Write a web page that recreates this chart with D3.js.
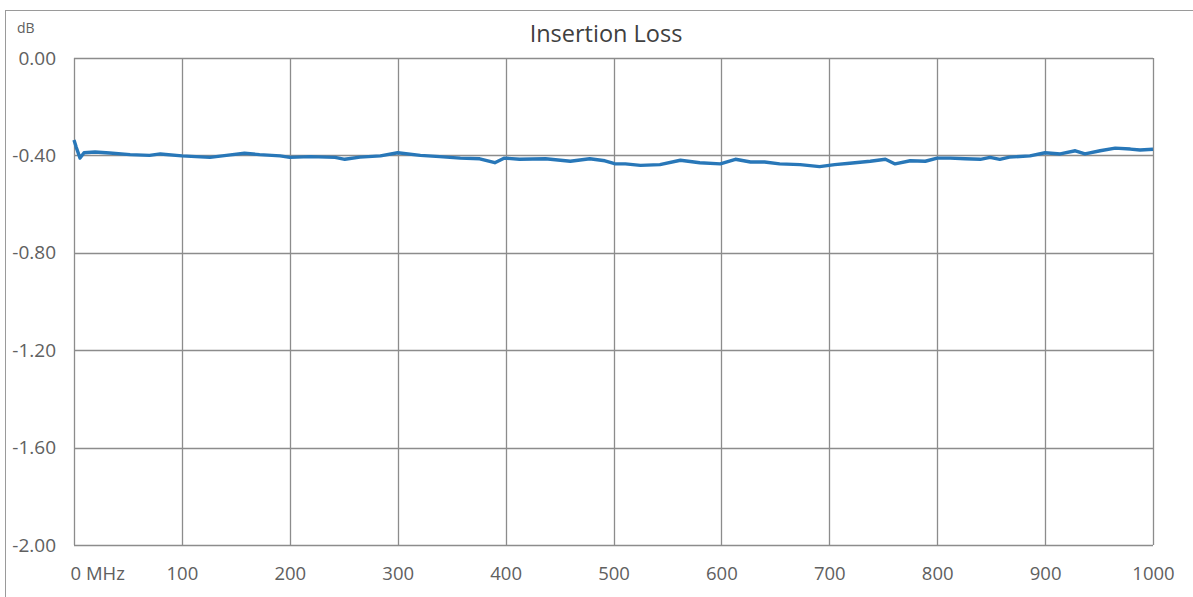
<!DOCTYPE html>
<html>
<head>
<meta charset="utf-8">
<script src="https://cdn.jsdelivr.net/npm/d3@7"></script>
<style>
    body { margin: 0; background: #fff; }
    #chart text { font-family: "Open Sans", "DejaVu Sans", sans-serif; }
</style>
</head>
<body>
<div id="chart"></div>
<script>
/** insertion loss data */
var freqMHz = [0, 2, 5.6, 9.3, 19.5, 33, 52, 70, 80, 100, 126, 145, 158, 172, 191, 200, 219, 242, 251, 265,
    284, 300, 321, 339, 358, 376, 390, 399, 413, 437, 460, 478, 492, 501, 511, 525, 543, 562, 580, 599,
    613, 627, 640, 654, 673, 691, 705, 719, 738, 752, 761, 775, 789, 800, 812, 826, 840, 849, 858, 867,
    886, 900, 914, 928, 937, 951, 965, 979, 988, 1000];
var lossDb = [-0.337, -0.366, -0.411, -0.389, -0.386, -0.390, -0.397, -0.400, -0.394, -0.402, -0.408, -0.398, -0.391, -0.397, -0.402, -0.408, -0.405, -0.408, -0.416, -0.407,
    -0.402, -0.389, -0.400, -0.405, -0.411, -0.414, -0.430, -0.411, -0.416, -0.414, -0.424, -0.414, -0.422, -0.434, -0.435, -0.441, -0.438, -0.420, -0.430, -0.435,
    -0.416, -0.427, -0.427, -0.435, -0.438, -0.446, -0.438, -0.432, -0.424, -0.416, -0.435, -0.422, -0.424, -0.411, -0.411, -0.414, -0.416, -0.408, -0.416, -0.407,
    -0.402, -0.389, -0.394, -0.381, -0.394, -0.381, -0.370, -0.374, -0.378, -0.375];

var xTicks = [0, 100, 200, 300, 400, 500, 600, 700, 800, 900, 1000];
var yTicks = [0, -0.4, -0.8, -1.2, -1.6, -2.0];
var chartTitle = "Insertion Loss";
var yUnit = "dB";

function drawChart() {
    var W = 1193, H = 597;
    var left = 74, right = 1153, top = 58, bottom = 545;
    var gridColor = "#8c8c8c";
    var labelColor = "#606060";

    var svg = d3.select("#chart").append("svg")
        .attr("width", W)
        .attr("height", H);

    // outer chart frame (cut off at right and bottom in the reference)
    svg.append("rect")
        .attr("x", 5.5).attr("y", 10.5)
        .attr("width", W + 20).attr("height", H + 20)
        .attr("fill", "#fff")
        .attr("stroke", "#9a9a9a")
        .attr("stroke-width", 1);

    var x = d3.scaleLinear().domain([0, 1000]).range([left, right]);
    var y = d3.scaleLinear().domain([-2, 0]).range([bottom, top]);

    // grid
    svg.append("g").selectAll("line.v")
        .data(xTicks).enter().append("line")
        .attr("x1", function (d) { return Math.round(x(d)) + 0.5; })
        .attr("x2", function (d) { return Math.round(x(d)) + 0.5; })
        .attr("y1", top).attr("y2", bottom)
        .attr("stroke", gridColor).attr("stroke-width", 1.3);
    svg.append("g").selectAll("line.h")
        .data(yTicks).enter().append("line")
        .attr("y1", function (d) { return Math.round(y(d)) + 0.5; })
        .attr("y2", function (d) { return Math.round(y(d)) + 0.5; })
        .attr("x1", left).attr("x2", right)
        .attr("stroke", gridColor).attr("stroke-width", 1.3);

    // y axis labels
    var yAxis = d3.axisLeft(y)
        .tickValues(yTicks)
        .tickSize(0)
        .tickPadding(18)
        .tickFormat(function (d) { return d.toFixed(2); });
    var gy = svg.append("g").attr("transform", "translate(" + left + ",0)").call(yAxis);
    gy.select(".domain").remove();
    gy.selectAll("text")
        .attr("fill", labelColor)
        .style("font-size", "19px");

    // x axis labels
    var xAxis = d3.axisBottom(x)
        .tickValues(xTicks)
        .tickSize(0)
        .tickPadding(22)
        .tickFormat(function (d) { return d === 0 ? "0 MHz" : String(d); });
    var gx = svg.append("g").attr("transform", "translate(0," + bottom + ")").call(xAxis);
    gx.select(".domain").remove();
    gx.selectAll("text")
        .attr("fill", labelColor)
        .style("font-size", "18.5px");
    gx.selectAll("text").filter(function (d) { return d === 0; })
        .attr("text-anchor", "start")
        .attr("dx", -4);

    // data line
    var pts = freqMHz.map(function (f, i) { return [f, lossDb[i]]; });
    var line = d3.line()
        .x(function (d) { return x(d[0]); })
        .y(function (d) { return y(d[1]); })
        .curve(d3.curveLinear);
    svg.append("path")
        .datum(pts)
        .attr("d", line)
        .attr("fill", "none")
        .attr("stroke", "#2877b8")
        .attr("stroke-width", 3.4)
        .attr("stroke-linejoin", "round");

    // title and unit
    svg.append("text")
        .attr("x", 606).attr("y", 42)
        .attr("text-anchor", "middle")
        .attr("fill", "#404040")
        .style("font-size", "23.5px")
        .text(chartTitle);
    svg.append("text")
        .attr("x", 17).attr("y", 33)
        .attr("fill", labelColor)
        .style("font-size", "14px")
        .text(yUnit);
}

drawChart();
</script>
</body>
</html>
